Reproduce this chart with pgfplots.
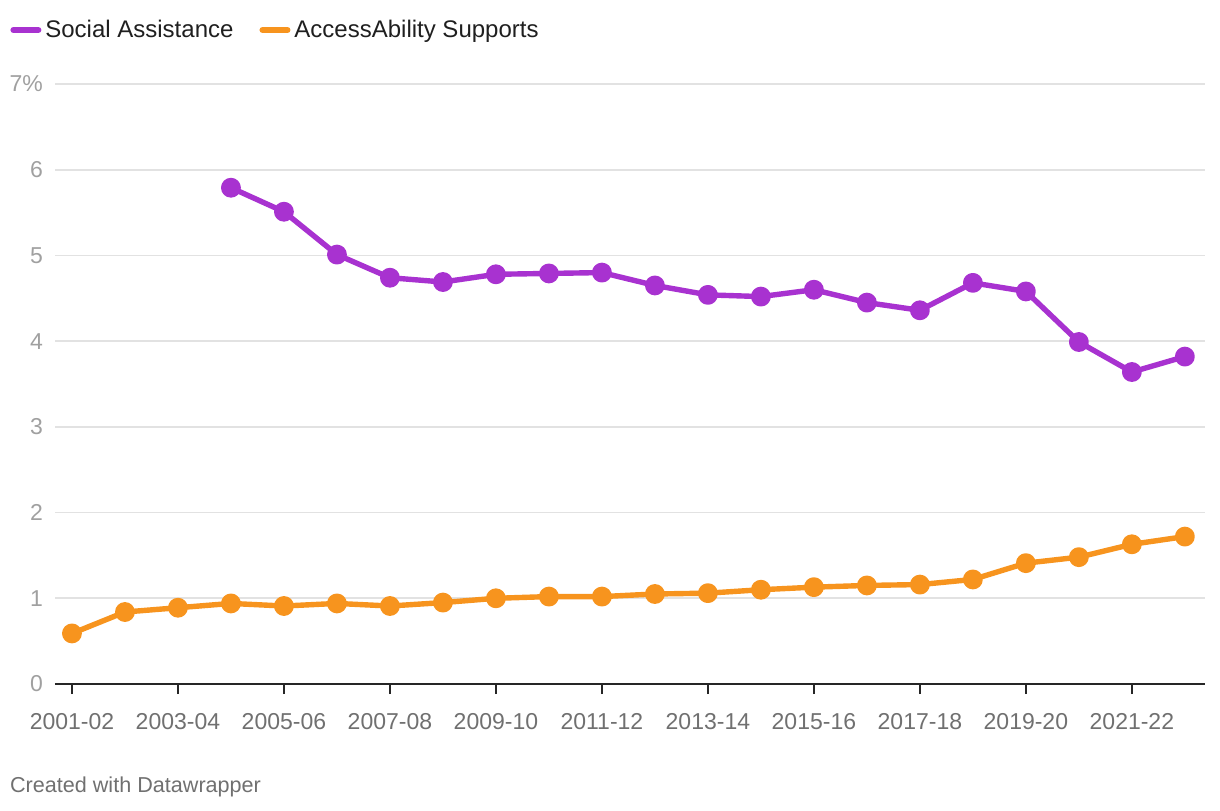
\documentclass[border=0pt]{standalone}
\usepackage{pgfplots}
\pgfplotsset{compat=1.18}
\usepackage{fontspec}
\setmainfont{Liberation Sans}
\definecolor{sapurple}{RGB}{168,50,208}
\definecolor{asorange}{RGB}{247,148,30}
\definecolor{gridgray}{RGB}{226,226,226}
\definecolor{ylabgray}{RGB}{160,160,160}
\definecolor{xlabgray}{RGB}{112,112,112}
\begin{document}
\begin{tikzpicture}
\begin{axis}[
  scale only axis,
  width=575pt, height=300pt,
  xmin=-0.32, xmax=21.38,
  ymin=0, ymax=7,
  axis x line*=bottom,
  axis y line*=left,
  y axis line style={draw=none},
  x axis line style={line width=1pt, draw=black!85},
  ytick={0,1,...,7},
  yticklabels={0,1,2,3,4,5,6,7\%},
  xtick={0,2,...,20},
  xticklabels={2001-02,2003-04,2005-06,2007-08,2009-10,2011-12,2013-14,2015-16,2017-18,2019-20,2021-22},
  ymajorgrids,
  grid style={gridgray, line width=0.8pt},
  major y tick style={draw=none},
  major tick length=5pt,
  tick align=outside,
  x tick style={line width=1pt, draw=black!85},
  /pgf/number format/assume math mode=true,
  yticklabel style={font=\fontsize{11.5}{13}\selectfont, text=ylabgray, xshift=2.5pt},
  xticklabel style={font=\fontsize{11.5}{13}\selectfont, text=xlabgray, yshift=-6pt},
  legend style={at={(axis description cs:0,1)}, anchor=west, xshift=-25.5pt, yshift=27pt,
    draw=none, fill=none, font=\fontsize{12}{14}\selectfont, text=black!88,
    /tikz/every even column/.append style={column sep=11pt}},
  legend columns=2,
  legend image code/.code={\draw[line width=3pt, line cap=round, #1] (0pt,0pt) -- (12.5pt,0pt);},
  clip=false,
]
\addplot[sapurple, line width=2.7pt, line join=round, mark=*, mark size=3.6pt, mark options={draw=none, fill=sapurple}]
coordinates {
(3,5.79) (4,5.51) (5,5.01) (6,4.74) (7,4.69) (8,4.78) (9,4.79) (10,4.80) (11,4.65) (12,4.54)
(13,4.52) (14,4.60) (15,4.45) (16,4.36) (17,4.68) (18,4.58) (19,3.99) (20,3.64) (21,3.82)
};
\addlegendentry{Social Assistance}
\addplot[asorange, line width=2.7pt, line join=round, mark=*, mark size=3.6pt, mark options={draw=none, fill=asorange}]
coordinates {
(0,0.59) (1,0.84) (2,0.89) (3,0.94) (4,0.91) (5,0.94) (6,0.91) (7,0.95) (8,1.00) (9,1.02)
(10,1.02) (11,1.05) (12,1.06) (13,1.10) (14,1.13) (15,1.15) (16,1.16) (17,1.22) (18,1.41)
(19,1.48) (20,1.63) (21,1.72)
};
\addlegendentry{AccessAbility Supports}
\end{axis}
\node[anchor=west, font=\fontsize{10.8}{12}\selectfont, text=xlabgray] at (-26pt,-51.5pt) {Created with Datawrapper};
\pgfresetboundingbox
\path[use as bounding box] (-27.5pt,-63pt) rectangle (582.5pt,342pt);
\end{tikzpicture}
\end{document}
